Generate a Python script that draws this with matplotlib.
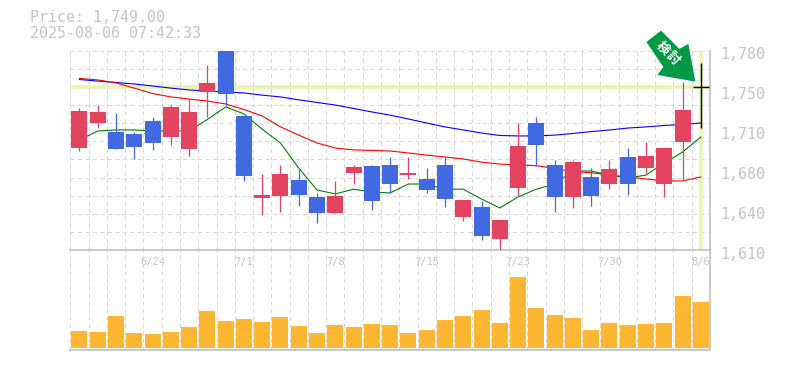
"""Candlestick chart with moving averages and a volume panel."""
import numpy as np
import matplotlib
matplotlib.use("Agg")
import matplotlib.pyplot as plt
from matplotlib.patches import Polygon
from matplotlib.transforms import IdentityTransform

plt.rcParams["font.family"] = ["DejaVu Sans Mono", "Noto Sans CJK JP"]

# prices, one per trading day
opens = [1697, 1718, 1711, 1709, 1720, 1706, 1696, 1745, 1782, 1724, 1654.5, 1656,
         1670, 1655, 1642, 1676, 1682, 1683, 1674, 1671, 1683, 1638, 1647, 1620,
         1663, 1718, 1683, 1655, 1672, 1666, 1689, 1680, 1666, 1702, 1749]
highs = [1731, 1734, 1727, 1711, 1723, 1734, 1740, 1768, 1782, 1724, 1675, 1683,
         1679, 1659, 1669, 1683, 1683, 1689, 1689, 1680, 1689, 1653, 1652, 1636,
         1718, 1723, 1687, 1687, 1680, 1687, 1697, 1702, 1697, 1753, 1769]
lows = [1694.5, 1714, 1696, 1688, 1695, 1700, 1690, 1723, 1733, 1669, 1640, 1643,
        1648, 1633, 1642, 1666, 1644, 1659, 1671, 1659, 1647, 1635, 1619, 1610,
        1656, 1682, 1643, 1646, 1648, 1662, 1657, 1676, 1655, 1670, 1714]
closes = [1728.5, 1728, 1696, 1698, 1701, 1732, 1728, 1752, 1743, 1673, 1657, 1675,
          1657, 1642, 1656, 1681, 1652, 1666, 1676, 1661, 1654, 1653, 1622, 1636,
          1699, 1700, 1655, 1685, 1656, 1679, 1666, 1690, 1697, 1729, 1749]
volumes = [17, 16, 32, 15, 14, 16, 21, 37, 27, 29, 26, 31, 22, 15, 23, 21, 24, 23,
           15, 18, 28, 32, 38, 25, 71, 40, 33, 30, 18, 25, 23, 24, 25, 52, 46]

ma_short = [1703.9, 1711.5, 1712.4, 1712.4, 1711.5, 1711.5, 1711.5, 1721.3, 1732, 1726,
            1713, 1701.3, 1680, 1661.3, 1658, 1662, 1659.6, 1658.8, 1666.4, 1666.4,
            1662, 1662, 1653.6, 1646, 1655.4, 1662, 1666.4, 1677.5, 1677.5, 1674,
            1671.5, 1674, 1684.3, 1693.6, 1706.4]
ma_mid = [1756.2, 1755, 1752.4, 1748, 1743.4, 1740.5, 1738.7, 1737, 1734.5, 1729.8,
          1724.3, 1715, 1708, 1701.3, 1697, 1695.4, 1695, 1694.5, 1692.8, 1691,
          1689.4, 1687.7, 1685, 1683.4, 1682.6, 1682, 1679.6, 1677, 1676, 1674,
          1672.4, 1670.7, 1669, 1669, 1672.4]
ma_long = [1755.3, 1754, 1752.8, 1751.5, 1749.8, 1748, 1746.4, 1745.6, 1744.7, 1743.9,
           1742, 1740.5, 1738, 1735.8, 1733.6, 1730.7, 1727.7, 1725, 1721.7, 1718.3,
           1715, 1712.4, 1709.8, 1707.7, 1707.3, 1707.3, 1708, 1709.4, 1711, 1712.4,
           1714, 1715, 1716.2, 1717, 1718.3]

date_idx = [4, 9, 14, 19, 24, 29, 34]
date_labels = ["6/24", "7/1", "7/8", "7/15", "7/23", "7/30", "8/6"]
price_ticks = [1610, 1644, 1678, 1712, 1746, 1780]
price_labels = ["1,610", "1,640", "1,680", "1,710", "1,750", "1,780"]
last_price = 1749

UP = "#e2445f"
DOWN = "#4169e1"
GRID = "#d6d6d6"
EDGE = "#c0c0c0"
TEXT = "#c4c4c4"
HILITE = "#e6f5b0"
W, H = 785, 370

fig = plt.figure(figsize=(W / 100, H / 100), dpi=100)
ax = fig.add_axes([70.3 / W, 1 - 250.3 / H, 639.7 / W, 199.8 / H])
vol = fig.add_axes([70.3 / W, 1 - 350 / H, 639.7 / W, 99.7 / H], sharex=ax)
ax.set_facecolor("none")
vol.set_facecolor("none")

xs = np.arange(len(opens))
edges = np.arange(-0.5, len(opens))
ax.set_xlim(-0.5, len(opens) - 0.5)
ax.set_ylim(1610, 1780)
vol.set_ylim(-2, 98)

for a in (ax, vol):
    a.set_xticks(edges, minor=True)
    a.grid(True, which="minor", axis="x", color=GRID, ls=(0, (4, 3.5)), lw=0.72)
    a.set_axisbelow(True)
    a.tick_params(which="both", length=0)
    for s in ("top", "left"):
        a.spines[s].set_visible(False)
    for s in ("right", "bottom"):
        a.spines[s].set_color(EDGE)
        a.spines[s].set_linewidth(1.2)

ax.set_yticks(np.linspace(1610, 1780, 12), minor=True)
ax.grid(True, which="minor", axis="y", color=GRID, ls=(0, (4, 3.5)), lw=0.72)
ax.set_yticks([])
ax.set_xticks(date_idx)
ax.set_xticklabels(date_labels, fontsize=7.5, color=TEXT)
ax.tick_params(axis="x", which="major", pad=5, labelbottom=True)
vol.tick_params(axis="x", which="both", labelbottom=False)
vol.set_yticks([])

for v, lab in zip(price_ticks, price_labels):
    ax.annotate(lab, (1, v), xycoords=ax.get_yaxis_transform(), xytext=(10, -4),
                textcoords="offset pixels", color=TEXT, fontsize=10.8, va="center",
                annotation_clip=False)

# highlight of the latest price and day
ax.axhline(last_price, color=HILITE, lw=2.6, zorder=1.5)
ax.axvline(xs[-1], color=HILITE, lw=2.6, zorder=1.5)

ax.plot(xs, ma_long, color="#0000ff", lw=0.8, zorder=2)
ax.plot(xs, ma_mid, color="#ff0000", lw=0.8, zorder=2)
ax.plot(xs, ma_short, color="#008000", lw=0.8, zorder=2)

for i, (o, h, l, c) in enumerate(zip(opens, highs, lows, closes)):
    if o == c:
        ax.vlines(i, l, h, color="black", lw=1.0, zorder=3)
        ax.hlines(c, i - 0.45, i + 0.45, color="black", lw=1.0, zorder=3)
        continue
    col = UP if c > o else DOWN
    ax.vlines(i, l, h, color=col, lw=0.9, zorder=3)
    ax.bar(i, abs(c - o), bottom=min(o, c), width=0.875, color=col, zorder=3)

vol.bar(xs, volumes, width=0.875, color="#ffb733", zorder=3)

fig.text(30 / W, 1 - 17.5 / H, "Price: 1,749.00", color=TEXT, fontsize=10.8, va="center")
fig.text(30 / W, 1 - 33 / H, "2025-08-06 07:42:33", color=TEXT, fontsize=10.8, va="center")

# green badge arrow, offsets in pixels from its tip
tip = ax.transData.transform((xs[-1] - 0.3, 1753.5))
shape = np.array([[0, 0], [-38, 6.7], [-32, 14.7], [-49, 39.7], [-34.3, 51], [-16, 32.7], [-7, 37.7]])
fig.add_artist(Polygon(tip + shape, closed=True, color="#009a44", lw=0,
                       transform=IdentityTransform(), zorder=6))
for text, off in (("検", (-33, 32.7)), ("討", (-23, 22.7))):
    fig.text(*(tip + off), text, transform=IdentityTransform(), color="white",
             fontsize=9.5, fontweight="bold", rotation=-45, ha="center", va="center",
             rotation_mode="anchor", zorder=7)

fig.savefig("out.png", dpi=100)
